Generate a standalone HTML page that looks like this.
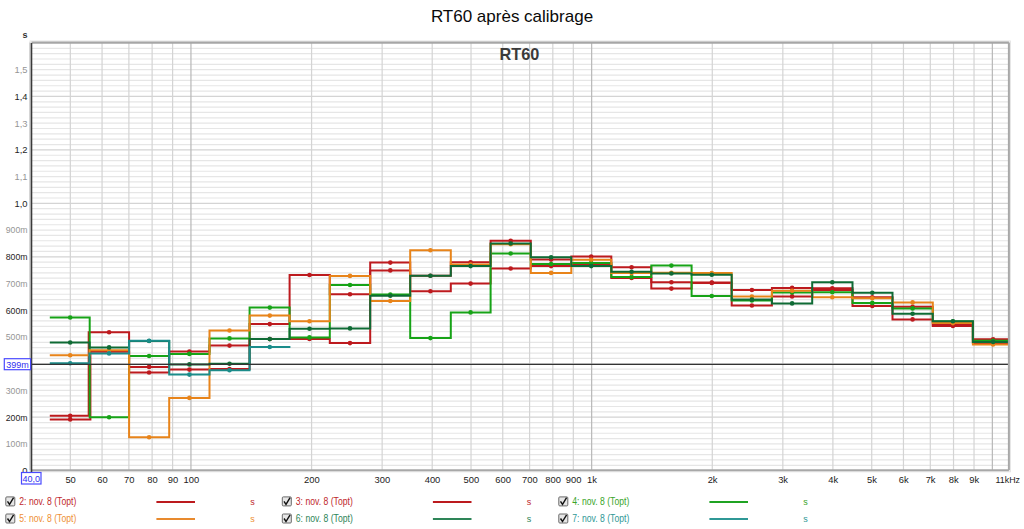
<!DOCTYPE html>
<html><head><meta charset="utf-8"><title>RT60</title>
<style>html,body{margin:0;padding:0;background:#fff;width:1024px;height:529px;overflow:hidden;font-family:"Liberation Sans",sans-serif}svg text{font-family:"Liberation Sans",sans-serif}</style>
</head><body>
<svg width="1024" height="529" viewBox="0 0 1024 529" style="position:absolute;left:0;top:0">
<rect x="0" y="0" width="1024" height="529" fill="#fff"/>
<text x="512" y="22" text-anchor="middle" font-size="17" fill="#0a0a0a">RT60 après calibrage</text>
<rect x="31.5" y="42.5" width="977.4" height="427.8" fill="#fff"/>
<path d="M31.5 465.30H1008.9M31.5 459.96H1008.9M31.5 454.61H1008.9M31.5 449.27H1008.9M31.5 443.92H1008.9M31.5 438.57H1008.9M31.5 433.23H1008.9M31.5 427.88H1008.9M31.5 422.54H1008.9M31.5 411.84H1008.9M31.5 406.50H1008.9M31.5 401.15H1008.9M31.5 395.81H1008.9M31.5 390.46H1008.9M31.5 385.11H1008.9M31.5 379.77H1008.9M31.5 374.42H1008.9M31.5 369.08H1008.9M31.5 358.38H1008.9M31.5 353.04H1008.9M31.5 347.69H1008.9M31.5 342.35H1008.9M31.5 337.00H1008.9M31.5 331.65H1008.9M31.5 326.31H1008.9M31.5 320.96H1008.9M31.5 315.62H1008.9M31.5 304.92H1008.9M31.5 299.58H1008.9M31.5 294.23H1008.9M31.5 288.89H1008.9M31.5 283.54H1008.9M31.5 278.19H1008.9M31.5 272.85H1008.9M31.5 267.50H1008.9M31.5 262.16H1008.9M31.5 251.46H1008.9M31.5 246.12H1008.9M31.5 240.77H1008.9M31.5 235.43H1008.9M31.5 230.08H1008.9M31.5 224.73H1008.9M31.5 219.39H1008.9M31.5 214.04H1008.9M31.5 208.70H1008.9M31.5 198.00H1008.9M31.5 192.66H1008.9M31.5 187.31H1008.9M31.5 181.97H1008.9M31.5 176.62H1008.9M31.5 171.27H1008.9M31.5 165.93H1008.9M31.5 160.58H1008.9M31.5 155.24H1008.9M31.5 144.54H1008.9M31.5 139.20H1008.9M31.5 133.85H1008.9M31.5 128.51H1008.9M31.5 123.16H1008.9M31.5 117.81H1008.9M31.5 112.47H1008.9M31.5 107.12H1008.9M31.5 101.78H1008.9M31.5 91.08H1008.9M31.5 85.74H1008.9M31.5 80.39H1008.9M31.5 75.05H1008.9M31.5 69.70H1008.9M31.5 64.35H1008.9M31.5 59.01H1008.9M31.5 53.66H1008.9M31.5 48.32H1008.9" stroke="#e6e6e6" stroke-width="1.2"/>
<path d="M31.5 417.19H1008.9M31.5 363.73H1008.9M31.5 310.27H1008.9M31.5 256.81H1008.9M31.5 203.35H1008.9M31.5 149.89H1008.9M31.5 96.43H1008.9" stroke="#d4d4d4" stroke-width="1.2"/>
<path d="M70.33 42.5V470.3M102.06 42.5V470.3M128.89 42.5V470.3M152.12 42.5V470.3M172.62 42.5V470.3M311.58 42.5V470.3M382.14 42.5V470.3M432.20 42.5V470.3M471.03 42.5V470.3M502.76 42.5V470.3M529.59 42.5V470.3M552.82 42.5V470.3M573.32 42.5V470.3M712.28 42.5V470.3M782.84 42.5V470.3M832.90 42.5V470.3M871.73 42.5V470.3M903.46 42.5V470.3M930.29 42.5V470.3M953.52 42.5V470.3M974.02 42.5V470.3" stroke="#d4d4d4" stroke-width="1.2"/>
<path d="M190.95 42.5V470.3M591.65 42.5V470.3M992.35 42.5V470.3" stroke="#b8b8b8" stroke-width="1.2"/>
<text x="519.5" y="59.5" text-anchor="middle" font-size="16.3" font-weight="bold" fill="#3a3a3a">RT60</text>
<path d="M49.8 415.8 H88.7 V332.3 H129.1 V366.9 H169.2 V351.6 H209.5 V345.6 H249.6 V324.1 H289.6 V275.0 H329.8 V294.3 H370.2 V262.6 H410.2 V275.7 H450.8 V262.3 H490.6 V240.8 H530.8 V259.6 H571.3 V256.6 H611.3 V267.2 H651.3 V282.3 H691.6 V282.5 H731.7 V290.0 H771.9 V287.9 H812.2 V288.2 H852.5 V297.3 H892.5 V306.8 H932.8 V324.8 H972.9 V339.2 H1008.5" fill="none" stroke="#bd1a1e" stroke-width="2" stroke-linejoin="miter"/>
<circle cx="70.2" cy="415.8" r="2.3" fill="#bd1a1e"/>
<circle cx="109.1" cy="332.3" r="2.3" fill="#bd1a1e"/>
<circle cx="149.1" cy="366.9" r="2.3" fill="#bd1a1e"/>
<circle cx="189.4" cy="351.6" r="2.3" fill="#bd1a1e"/>
<circle cx="229.5" cy="345.6" r="2.3" fill="#bd1a1e"/>
<circle cx="269.8" cy="324.1" r="2.3" fill="#bd1a1e"/>
<circle cx="309.5" cy="275.0" r="2.3" fill="#bd1a1e"/>
<circle cx="350.0" cy="294.3" r="2.3" fill="#bd1a1e"/>
<circle cx="390.3" cy="262.6" r="2.3" fill="#bd1a1e"/>
<circle cx="430.4" cy="275.7" r="2.3" fill="#bd1a1e"/>
<circle cx="470.6" cy="262.3" r="2.3" fill="#bd1a1e"/>
<circle cx="510.7" cy="240.8" r="2.3" fill="#bd1a1e"/>
<circle cx="551.1" cy="259.6" r="2.3" fill="#bd1a1e"/>
<circle cx="591.2" cy="256.6" r="2.3" fill="#bd1a1e"/>
<circle cx="631.6" cy="267.2" r="2.3" fill="#bd1a1e"/>
<circle cx="671.4" cy="282.3" r="2.3" fill="#bd1a1e"/>
<circle cx="711.8" cy="282.5" r="2.3" fill="#bd1a1e"/>
<circle cx="751.9" cy="290.0" r="2.3" fill="#bd1a1e"/>
<circle cx="792.1" cy="287.9" r="2.3" fill="#bd1a1e"/>
<circle cx="832.3" cy="288.2" r="2.3" fill="#bd1a1e"/>
<circle cx="872.3" cy="297.3" r="2.3" fill="#bd1a1e"/>
<circle cx="912.6" cy="306.8" r="2.3" fill="#bd1a1e"/>
<circle cx="952.9" cy="324.8" r="2.3" fill="#bd1a1e"/>
<circle cx="993.1" cy="339.2" r="2.3" fill="#bd1a1e"/>
<path d="M49.8 419.4 H90.4 V351.8 H129.1 V372.5 H169.2 V369.6 H209.5 V369.0 H249.6 V339.0 H289.6 V338.9 H329.8 V343.1 H370.2 V270.4 H410.2 V291.3 H450.8 V283.6 H490.6 V268.5 H530.8 V266.1 H571.3 V264.5 H611.3 V278.0 H651.3 V288.6 H691.6 V282.9 H731.7 V305.5 H771.9 V296.4 H812.2 V290.1 H852.5 V305.9 H892.5 V319.4 H932.8 V326.0 H972.9 V343.0 H1008.5" fill="none" stroke="#bd1a1e" stroke-width="2" stroke-linejoin="miter"/>
<circle cx="70.2" cy="419.4" r="2.3" fill="#bd1a1e"/>
<circle cx="109.1" cy="351.8" r="2.3" fill="#bd1a1e"/>
<circle cx="149.1" cy="372.5" r="2.3" fill="#bd1a1e"/>
<circle cx="189.4" cy="369.6" r="2.3" fill="#bd1a1e"/>
<circle cx="229.5" cy="369.0" r="2.3" fill="#bd1a1e"/>
<circle cx="269.8" cy="339.0" r="2.3" fill="#bd1a1e"/>
<circle cx="309.5" cy="338.9" r="2.3" fill="#bd1a1e"/>
<circle cx="350.0" cy="343.1" r="2.3" fill="#bd1a1e"/>
<circle cx="390.3" cy="270.4" r="2.3" fill="#bd1a1e"/>
<circle cx="430.4" cy="291.3" r="2.3" fill="#bd1a1e"/>
<circle cx="470.6" cy="283.6" r="2.3" fill="#bd1a1e"/>
<circle cx="510.7" cy="268.5" r="2.3" fill="#bd1a1e"/>
<circle cx="551.1" cy="266.1" r="2.3" fill="#bd1a1e"/>
<circle cx="591.2" cy="264.5" r="2.3" fill="#bd1a1e"/>
<circle cx="631.6" cy="278.0" r="2.3" fill="#bd1a1e"/>
<circle cx="671.4" cy="288.6" r="2.3" fill="#bd1a1e"/>
<circle cx="711.8" cy="282.9" r="2.3" fill="#bd1a1e"/>
<circle cx="751.9" cy="305.5" r="2.3" fill="#bd1a1e"/>
<circle cx="792.1" cy="296.4" r="2.3" fill="#bd1a1e"/>
<circle cx="832.3" cy="290.1" r="2.3" fill="#bd1a1e"/>
<circle cx="872.3" cy="305.9" r="2.3" fill="#bd1a1e"/>
<circle cx="912.6" cy="319.4" r="2.3" fill="#bd1a1e"/>
<circle cx="952.9" cy="326.0" r="2.3" fill="#bd1a1e"/>
<circle cx="993.1" cy="343.0" r="2.3" fill="#bd1a1e"/>
<path d="M49.8 317.5 H89.7 V417.3 H129.1 V356.0 H169.2 V353.9 H209.5 V338.4 H249.6 V307.6 H289.6 V337.4 H329.8 V285.0 H370.2 V294.6 H410.2 V338.1 H450.8 V312.4 H490.6 V253.5 H530.8 V264.0 H571.3 V262.9 H611.3 V277.0 H651.3 V265.6 H691.6 V296.0 H731.7 V300.4 H771.9 V292.4 H812.2 V292.3 H852.5 V302.9 H892.5 V308.4 H932.8 V321.5 H972.9 V340.7 H1008.5" fill="none" stroke="#17a317" stroke-width="2" stroke-linejoin="miter"/>
<circle cx="70.2" cy="317.5" r="2.3" fill="#17a317"/>
<circle cx="109.1" cy="417.3" r="2.3" fill="#17a317"/>
<circle cx="149.1" cy="356.0" r="2.3" fill="#17a317"/>
<circle cx="189.4" cy="353.9" r="2.3" fill="#17a317"/>
<circle cx="229.5" cy="338.4" r="2.3" fill="#17a317"/>
<circle cx="269.8" cy="307.6" r="2.3" fill="#17a317"/>
<circle cx="309.5" cy="337.4" r="2.3" fill="#17a317"/>
<circle cx="350.0" cy="285.0" r="2.3" fill="#17a317"/>
<circle cx="390.3" cy="294.6" r="2.3" fill="#17a317"/>
<circle cx="430.4" cy="338.1" r="2.3" fill="#17a317"/>
<circle cx="470.6" cy="312.4" r="2.3" fill="#17a317"/>
<circle cx="510.7" cy="253.5" r="2.3" fill="#17a317"/>
<circle cx="551.1" cy="264.0" r="2.3" fill="#17a317"/>
<circle cx="591.2" cy="262.9" r="2.3" fill="#17a317"/>
<circle cx="631.6" cy="277.0" r="2.3" fill="#17a317"/>
<circle cx="671.4" cy="265.6" r="2.3" fill="#17a317"/>
<circle cx="711.8" cy="296.0" r="2.3" fill="#17a317"/>
<circle cx="751.9" cy="300.4" r="2.3" fill="#17a317"/>
<circle cx="792.1" cy="292.4" r="2.3" fill="#17a317"/>
<circle cx="832.3" cy="292.3" r="2.3" fill="#17a317"/>
<circle cx="872.3" cy="302.9" r="2.3" fill="#17a317"/>
<circle cx="912.6" cy="308.4" r="2.3" fill="#17a317"/>
<circle cx="952.9" cy="321.5" r="2.3" fill="#17a317"/>
<circle cx="993.1" cy="340.7" r="2.3" fill="#17a317"/>
<path d="M49.8 355.2 H89.6 V350.3 H129.1 V437.3 H169.2 V397.9 H209.5 V330.5 H249.6 V315.6 H289.6 V321.2 H329.8 V275.9 H370.2 V301.0 H410.2 V250.3 H450.8 V264.5 H490.6 V244.2 H530.8 V272.9 H571.3 V259.7 H611.3 V273.1 H651.3 V272.8 H691.6 V273.0 H731.7 V296.5 H771.9 V290.8 H812.2 V297.2 H852.5 V298.3 H892.5 V302.4 H932.8 V323.1 H972.9 V344.5 H1008.5" fill="none" stroke="#e8841a" stroke-width="2" stroke-linejoin="miter"/>
<circle cx="70.2" cy="355.2" r="2.3" fill="#e8841a"/>
<circle cx="109.1" cy="350.3" r="2.3" fill="#e8841a"/>
<circle cx="149.1" cy="437.3" r="2.3" fill="#e8841a"/>
<circle cx="189.4" cy="397.9" r="2.3" fill="#e8841a"/>
<circle cx="229.5" cy="330.5" r="2.3" fill="#e8841a"/>
<circle cx="269.8" cy="315.6" r="2.3" fill="#e8841a"/>
<circle cx="309.5" cy="321.2" r="2.3" fill="#e8841a"/>
<circle cx="350.0" cy="275.9" r="2.3" fill="#e8841a"/>
<circle cx="390.3" cy="301.0" r="2.3" fill="#e8841a"/>
<circle cx="430.4" cy="250.3" r="2.3" fill="#e8841a"/>
<circle cx="470.6" cy="264.5" r="2.3" fill="#e8841a"/>
<circle cx="510.7" cy="244.2" r="2.3" fill="#e8841a"/>
<circle cx="551.1" cy="272.9" r="2.3" fill="#e8841a"/>
<circle cx="591.2" cy="259.7" r="2.3" fill="#e8841a"/>
<circle cx="631.6" cy="273.1" r="2.3" fill="#e8841a"/>
<circle cx="671.4" cy="272.8" r="2.3" fill="#e8841a"/>
<circle cx="711.8" cy="273.0" r="2.3" fill="#e8841a"/>
<circle cx="751.9" cy="296.5" r="2.3" fill="#e8841a"/>
<circle cx="792.1" cy="290.8" r="2.3" fill="#e8841a"/>
<circle cx="832.3" cy="297.2" r="2.3" fill="#e8841a"/>
<circle cx="872.3" cy="298.3" r="2.3" fill="#e8841a"/>
<circle cx="912.6" cy="302.4" r="2.3" fill="#e8841a"/>
<circle cx="952.9" cy="323.1" r="2.3" fill="#e8841a"/>
<circle cx="993.1" cy="344.5" r="2.3" fill="#e8841a"/>
<path d="M49.8 342.5 H89.6 V347.4 H129.1 V341.0 H169.2 V364.4 H209.5 V363.8 H249.6 V339.1 H289.6 V328.7 H329.8 V328.4 H370.2 V295.8 H410.2 V275.7 H450.8 V266.1 H490.6 V243.5 H530.8 V257.3 H571.3 V266.1 H611.3 V271.7 H651.3 V273.5 H691.6 V274.7 H731.7 V299.5 H771.9 V303.4 H812.2 V282.3 H852.5 V292.7 H892.5 V313.8 H932.8 V321.3 H972.9 V341.9 H1008.5" fill="none" stroke="#0f6b35" stroke-width="2" stroke-linejoin="miter"/>
<circle cx="70.2" cy="342.5" r="2.3" fill="#0f6b35"/>
<circle cx="109.1" cy="347.4" r="2.3" fill="#0f6b35"/>
<circle cx="149.1" cy="341.0" r="2.3" fill="#0f6b35"/>
<circle cx="189.4" cy="364.4" r="2.3" fill="#0f6b35"/>
<circle cx="229.5" cy="363.8" r="2.3" fill="#0f6b35"/>
<circle cx="269.8" cy="339.1" r="2.3" fill="#0f6b35"/>
<circle cx="309.5" cy="328.7" r="2.3" fill="#0f6b35"/>
<circle cx="350.0" cy="328.4" r="2.3" fill="#0f6b35"/>
<circle cx="390.3" cy="295.8" r="2.3" fill="#0f6b35"/>
<circle cx="430.4" cy="275.7" r="2.3" fill="#0f6b35"/>
<circle cx="470.6" cy="266.1" r="2.3" fill="#0f6b35"/>
<circle cx="510.7" cy="243.5" r="2.3" fill="#0f6b35"/>
<circle cx="551.1" cy="257.3" r="2.3" fill="#0f6b35"/>
<circle cx="591.2" cy="266.1" r="2.3" fill="#0f6b35"/>
<circle cx="631.6" cy="271.7" r="2.3" fill="#0f6b35"/>
<circle cx="671.4" cy="273.5" r="2.3" fill="#0f6b35"/>
<circle cx="711.8" cy="274.7" r="2.3" fill="#0f6b35"/>
<circle cx="751.9" cy="299.5" r="2.3" fill="#0f6b35"/>
<circle cx="792.1" cy="303.4" r="2.3" fill="#0f6b35"/>
<circle cx="832.3" cy="282.3" r="2.3" fill="#0f6b35"/>
<circle cx="872.3" cy="292.7" r="2.3" fill="#0f6b35"/>
<circle cx="912.6" cy="313.8" r="2.3" fill="#0f6b35"/>
<circle cx="952.9" cy="321.3" r="2.3" fill="#0f6b35"/>
<circle cx="993.1" cy="341.9" r="2.3" fill="#0f6b35"/>
<path d="M49.8 363.2 H89.4 V353.4 H129.1 V340.8 H169.2 V374.6 H209.5 V370.2 H249.6 V347.0 H290.4" fill="none" stroke="#1b8c8a" stroke-width="2" stroke-linejoin="miter"/>
<circle cx="70.2" cy="363.2" r="2.3" fill="#1b8c8a"/>
<circle cx="109.1" cy="353.4" r="2.3" fill="#1b8c8a"/>
<circle cx="149.1" cy="340.8" r="2.3" fill="#1b8c8a"/>
<circle cx="189.4" cy="374.6" r="2.3" fill="#1b8c8a"/>
<circle cx="229.5" cy="370.2" r="2.3" fill="#1b8c8a"/>
<circle cx="269.8" cy="347.0" r="2.3" fill="#1b8c8a"/>
<line x1="31.5" y1="364.3" x2="1008.9" y2="364.3" stroke="#333" stroke-width="1.3"/>
<rect x="30.0" y="41.0" width="980.4" height="430.8" fill="none" stroke="#e4e4e4" stroke-width="1"/>
<line x1="31.5" y1="42.6" x2="1008.9" y2="42.6" stroke="#a6a6a6" stroke-width="2.2"/>
<line x1="29.9" y1="42.5" x2="29.9" y2="470.3" stroke="#d0d0d0" stroke-width="1.5"/>
<line x1="1008.9" y1="42.5" x2="1008.9" y2="470.3" stroke="#a8a8a8" stroke-width="2"/>
<line x1="31.5" y1="470.3" x2="1008.9" y2="470.3" stroke="#a8a8a8" stroke-width="2"/>
<line x1="31.5" y1="43.0" x2="31.5" y2="472.3" stroke="#3a3a3a" stroke-width="1.6"/>
<text x="27.5" y="73.0" text-anchor="end" font-size="9.4" fill="#959595">1,5</text>
<text x="27.5" y="99.8" text-anchor="end" font-size="9.4" fill="#1e1e1e">1,4</text>
<text x="27.5" y="126.5" text-anchor="end" font-size="9.4" fill="#959595">1,3</text>
<text x="27.5" y="153.2" text-anchor="end" font-size="9.4" fill="#1e1e1e">1,2</text>
<text x="27.5" y="180.0" text-anchor="end" font-size="9.4" fill="#959595">1,1</text>
<text x="27.5" y="206.7" text-anchor="end" font-size="9.4" fill="#1e1e1e">1,0</text>
<text x="27.5" y="233.4" text-anchor="end" font-size="9.4" textLength="21.8" lengthAdjust="spacingAndGlyphs" fill="#959595">900m</text>
<text x="27.5" y="260.2" text-anchor="end" font-size="9.4" textLength="21.8" lengthAdjust="spacingAndGlyphs" fill="#1e1e1e">800m</text>
<text x="27.5" y="286.9" text-anchor="end" font-size="9.4" textLength="21.8" lengthAdjust="spacingAndGlyphs" fill="#959595">700m</text>
<text x="27.5" y="313.6" text-anchor="end" font-size="9.4" textLength="21.8" lengthAdjust="spacingAndGlyphs" fill="#1e1e1e">600m</text>
<text x="27.5" y="340.3" text-anchor="end" font-size="9.4" textLength="21.8" lengthAdjust="spacingAndGlyphs" fill="#959595">500m</text>
<text x="27.5" y="393.8" text-anchor="end" font-size="9.4" textLength="21.8" lengthAdjust="spacingAndGlyphs" fill="#959595">300m</text>
<text x="27.5" y="420.5" text-anchor="end" font-size="9.4" textLength="21.8" lengthAdjust="spacingAndGlyphs" fill="#1e1e1e">200m</text>
<text x="27.5" y="447.3" text-anchor="end" font-size="9.4" textLength="21.8" lengthAdjust="spacingAndGlyphs" fill="#959595">100m</text>
<text x="27.5" y="474.0" text-anchor="end" font-size="9.4" fill="#1e1e1e">0</text>
<text x="27.5" y="38" text-anchor="end" font-size="9" font-weight="bold" fill="#333">s</text>
<text x="70.6" y="482.8" text-anchor="middle" font-size="9.4" fill="#222">50</text>
<text x="102.4" y="482.8" text-anchor="middle" font-size="9.4" fill="#222">60</text>
<text x="129.2" y="482.8" text-anchor="middle" font-size="9.4" fill="#222">70</text>
<text x="152.4" y="482.8" text-anchor="middle" font-size="9.4" fill="#222">80</text>
<text x="172.9" y="482.8" text-anchor="middle" font-size="9.4" fill="#222">90</text>
<text x="191.3" y="482.8" text-anchor="middle" font-size="9.4" fill="#222">100</text>
<text x="311.9" y="482.8" text-anchor="middle" font-size="9.4" fill="#222">200</text>
<text x="382.4" y="482.8" text-anchor="middle" font-size="9.4" fill="#222">300</text>
<text x="432.5" y="482.8" text-anchor="middle" font-size="9.4" fill="#222">400</text>
<text x="471.3" y="482.8" text-anchor="middle" font-size="9.4" fill="#222">500</text>
<text x="503.1" y="482.8" text-anchor="middle" font-size="9.4" fill="#222">600</text>
<text x="529.9" y="482.8" text-anchor="middle" font-size="9.4" fill="#222">700</text>
<text x="553.1" y="482.8" text-anchor="middle" font-size="9.4" fill="#222">800</text>
<text x="573.6" y="482.8" text-anchor="middle" font-size="9.4" fill="#222">900</text>
<text x="592.0" y="482.8" text-anchor="middle" font-size="9.4" fill="#222">1k</text>
<text x="712.6" y="482.8" text-anchor="middle" font-size="9.4" fill="#222">2k</text>
<text x="783.1" y="482.8" text-anchor="middle" font-size="9.4" fill="#222">3k</text>
<text x="833.2" y="482.8" text-anchor="middle" font-size="9.4" fill="#222">4k</text>
<text x="872.0" y="482.8" text-anchor="middle" font-size="9.4" fill="#222">5k</text>
<text x="903.8" y="482.8" text-anchor="middle" font-size="9.4" fill="#222">6k</text>
<text x="930.6" y="482.8" text-anchor="middle" font-size="9.4" fill="#222">7k</text>
<text x="953.8" y="482.8" text-anchor="middle" font-size="9.4" fill="#222">8k</text>
<text x="974.3" y="482.8" text-anchor="middle" font-size="9.4" fill="#222">9k</text>
<text x="1020" y="482.8" text-anchor="end" font-size="9.4" textLength="24.5" lengthAdjust="spacingAndGlyphs" fill="#222">11kHz</text>
<rect x="21.5" y="472.5" width="19.5" height="11.5" fill="#fff" stroke="#4a4aff" stroke-width="1.2"/>
<text x="31.2" y="482" text-anchor="middle" font-size="9" fill="#3030f0">40,0</text>
<rect x="4.3" y="358.7" width="26.3" height="11" fill="#fff" stroke="#4a4aff" stroke-width="1.2"/>
<text x="17.5" y="367.6" text-anchor="middle" font-size="9" fill="#3030f0">399m</text>
<rect x="5.8" y="496.9" width="9" height="9" rx="1" fill="#e6e6e6" stroke="#6a6a6a" stroke-width="1"/>
<path d="M7.5 501.4 L9.5 504.4 L13.6 497.7" fill="none" stroke="#111" stroke-width="1.4"/>
<text x="19.3" y="504.9" font-size="10.0" textLength="57" lengthAdjust="spacingAndGlyphs" fill="#c0282c">2: nov. 8 (Topt)</text>
<line x1="156.4" y1="501.9" x2="195.0" y2="501.9" stroke="#bc1a1e" stroke-width="2"/>
<text x="250.3" y="504.7" font-size="9" fill="#c0282c">s</text>
<rect x="282.3" y="496.9" width="9" height="9" rx="1" fill="#e6e6e6" stroke="#6a6a6a" stroke-width="1"/>
<path d="M284.0 501.4 L286.0 504.4 L290.1 497.7" fill="none" stroke="#111" stroke-width="1.4"/>
<text x="295.8" y="504.9" font-size="10.0" textLength="57" lengthAdjust="spacingAndGlyphs" fill="#c0282c">3: nov. 8 (Topt)</text>
<line x1="432.9" y1="501.9" x2="471.5" y2="501.9" stroke="#bc1a1e" stroke-width="2"/>
<text x="526.8" y="504.7" font-size="9" fill="#c0282c">s</text>
<rect x="558.8" y="496.9" width="9" height="9" rx="1" fill="#e6e6e6" stroke="#6a6a6a" stroke-width="1"/>
<path d="M560.5 501.4 L562.5 504.4 L566.6 497.7" fill="none" stroke="#111" stroke-width="1.4"/>
<text x="572.3" y="504.9" font-size="10.0" textLength="57" lengthAdjust="spacingAndGlyphs" fill="#3aa52a">4: nov. 8 (Topt)</text>
<line x1="709.4" y1="501.9" x2="748.0" y2="501.9" stroke="#1fa322" stroke-width="2"/>
<text x="803.3" y="504.7" font-size="9" fill="#3aa52a">s</text>
<rect x="5.8" y="514.0" width="9" height="9" rx="1" fill="#e6e6e6" stroke="#6a6a6a" stroke-width="1"/>
<path d="M7.5 518.5 L9.5 521.5 L13.6 514.8" fill="none" stroke="#111" stroke-width="1.4"/>
<text x="19.3" y="522.0" font-size="10.0" textLength="57" lengthAdjust="spacingAndGlyphs" fill="#ee8f34">5: nov. 8 (Topt)</text>
<line x1="156.4" y1="519.0" x2="195.0" y2="519.0" stroke="#e88a2e" stroke-width="2"/>
<text x="250.3" y="521.8" font-size="9" fill="#ee8f34">s</text>
<rect x="282.3" y="514.0" width="9" height="9" rx="1" fill="#e6e6e6" stroke="#6a6a6a" stroke-width="1"/>
<path d="M284.0 518.5 L286.0 521.5 L290.1 514.8" fill="none" stroke="#111" stroke-width="1.4"/>
<text x="295.8" y="522.0" font-size="10.0" textLength="57" lengthAdjust="spacingAndGlyphs" fill="#2e8558">6: nov. 8 (Topt)</text>
<line x1="432.9" y1="519.0" x2="471.5" y2="519.0" stroke="#2e8558" stroke-width="2"/>
<text x="526.8" y="521.8" font-size="9" fill="#2e8558">s</text>
<rect x="558.8" y="514.0" width="9" height="9" rx="1" fill="#e6e6e6" stroke="#6a6a6a" stroke-width="1"/>
<path d="M560.5 518.5 L562.5 521.5 L566.6 514.8" fill="none" stroke="#111" stroke-width="1.4"/>
<text x="572.3" y="522.0" font-size="10.0" textLength="57" lengthAdjust="spacingAndGlyphs" fill="#2f9896">7: nov. 8 (Topt)</text>
<line x1="709.4" y1="519.0" x2="748.0" y2="519.0" stroke="#2f9896" stroke-width="2"/>
<text x="803.3" y="521.8" font-size="9" fill="#2f9896">s</text>
</svg>
</body></html>
